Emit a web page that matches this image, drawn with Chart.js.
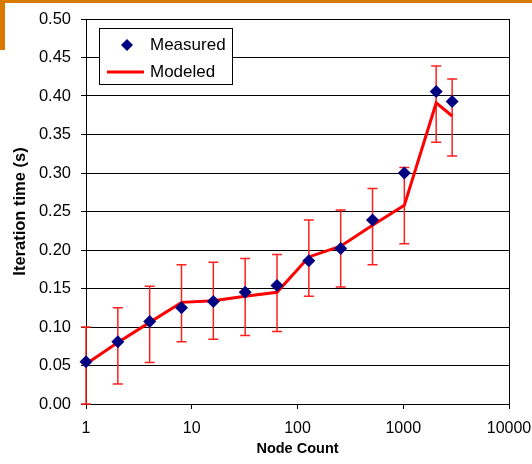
<!DOCTYPE html>
<html>
<head>
<meta charset="utf-8">
<script src="https://cdn.jsdelivr.net/npm/chart.js@4/dist/chart.umd.min.js"></script>
<style>
  body { margin: 0; background: #fff; }
  canvas { display: block; }
</style>
</head>
<body>
<canvas id="chart" width="532" height="464"></canvas>
<script>
// values
const nodes = [1, 2, 4, 8, 16, 32, 64, 128, 256, 512, 1024, 2048, 2900];
const measured = [0.055, 0.081, 0.107, 0.125, 0.133, 0.145, 0.154, 0.186, 0.202, 0.239, 0.300, 0.406, 0.393];
const errHigh = [0.100, 0.125, 0.153, 0.181, 0.184, 0.189, 0.194, 0.239, 0.252, 0.280, 0.307, 0.439, 0.422];
const errLow = [0.000, 0.026, 0.054, 0.081, 0.084, 0.089, 0.094, 0.140, 0.152, 0.181, 0.208, 0.340, 0.322];
const modeled = [0.052, 0.080, 0.106, 0.132, 0.134, 0.140, 0.145, 0.191, 0.205, 0.232, 0.258, 0.391, 0.374];
const xTicks = [1, 10, 100, 1000, 10000];
const yTicks = [0, 0.05, 0.1, 0.15, 0.2, 0.25, 0.3, 0.35, 0.4, 0.45, 0.5];

const FONT = "'Liberation Sans', Arial, sans-serif";
Chart.defaults.font.family = FONT;
Chart.defaults.color = "#000";

// orange slide decoration + plot frame
const frame = {
  id: "frame",
  beforeDraw(chart) {
    const ctx = chart.ctx;
    ctx.save();
    ctx.fillStyle = "#fff";
    ctx.fillRect(0, 0, chart.width, chart.height);
    ctx.fillStyle = "#d97a00";
    ctx.fillRect(0, 0, chart.width, 3);
    ctx.fillRect(0, 0, 5, 50);
    ctx.restore();
  },
  beforeDatasetsDraw(chart) {
    const a = chart.chartArea;
    const ctx = chart.ctx;
    ctx.save();
    ctx.strokeStyle = "#000";
    ctx.lineWidth = 1;
    ctx.strokeRect(Math.round(a.left) + 0.5, Math.round(a.top) + 0.5, Math.round(a.right - a.left), Math.round(a.bottom - a.top));
    ctx.restore();
  },
};

const errorBars = {
  id: "errorBars",
  beforeDatasetsDraw(chart) {
    const ctx = chart.ctx;
    const x = chart.scales.x;
    const y = chart.scales.y;
    ctx.save();
    ctx.strokeStyle = "#ff1f1f";
    ctx.lineWidth = 1.5;
    nodes.forEach((n, i) => {
      const px = x.getPixelForValue(n);
      const top = y.getPixelForValue(errHigh[i]);
      const bot = y.getPixelForValue(errLow[i]);
      ctx.beginPath();
      ctx.moveTo(px, top);
      ctx.lineTo(px, bot);
      ctx.moveTo(px - 5, top);
      ctx.lineTo(px + 5, top);
      ctx.moveTo(px - 5, bot);
      ctx.lineTo(px + 5, bot);
      ctx.stroke();
    });
    ctx.restore();
  },
};

const boxLegend = {
  id: "boxLegend",
  afterDraw(chart) {
    const a = chart.chartArea;
    const ctx = chart.ctx;
    const bx = a.left + 13, by = a.top + 9, bw = 133, bh = 56;
    ctx.save();
    ctx.fillStyle = "#fff";
    ctx.fillRect(bx, by, bw, bh);
    ctx.strokeStyle = "#000";
    ctx.lineWidth = 1;
    ctx.strokeRect(Math.round(bx) + 0.5, Math.round(by) + 0.5, bw, bh);
    // measured marker
    const mx = bx + 28, my = by + 17;
    ctx.fillStyle = "#000080";
    ctx.beginPath();
    ctx.moveTo(mx, my - 6);
    ctx.lineTo(mx + 6, my);
    ctx.lineTo(mx, my + 6);
    ctx.lineTo(mx - 6, my);
    ctx.closePath();
    ctx.fill();
    // modeled line
    ctx.strokeStyle = "#ff0000";
    ctx.lineWidth = 3;
    ctx.beginPath();
    ctx.moveTo(bx + 8, by + 44);
    ctx.lineTo(bx + 45, by + 44);
    ctx.stroke();
    ctx.fillStyle = "#000";
    ctx.font = "17px " + FONT;
    ctx.textBaseline = "middle";
    ctx.fillText(chart.data.datasets[0].label, bx + 51, my);
    ctx.fillText(chart.data.datasets[1].label, bx + 51, by + 44);
    ctx.restore();
  },
};

new Chart(document.getElementById("chart"), {
  type: "line",
  data: {
    datasets: [
      {
        label: "Measured",
        data: nodes.map((n, i) => ({ x: n, y: measured[i] })),
        showLine: false,
        pointStyle: "rectRot",
        pointRadius: 6.5,
        pointBackgroundColor: "#000080",
        pointBorderColor: "#000080",
        pointBorderWidth: 0,
        clip: false,
      },
      {
        label: "Modeled",
        data: nodes.map((n, i) => ({ x: n, y: modeled[i] })),
        borderColor: "#ff0000",
        borderWidth: 3,
        pointRadius: 0,
        tension: 0,
        clip: false,
      },
    ],
  },
  options: {
    responsive: false,
    animation: false,
    layout: { padding: { top: 19, right: 23, bottom: 0, left: 0 } },
    plugins: { legend: { display: false }, tooltip: { enabled: false } },
    scales: {
      x: {
        type: "logarithmic",
        min: 1,
        max: 10000,
        afterBuildTicks: (s) => { s.ticks = xTicks.map((v) => ({ value: v })); },
        afterFit: (s) => { s.height = 60; s.paddingLeft = 0; s.paddingRight = 0; },
        ticks: { autoSkip: false, maxRotation: 0, padding: 10, font: { size: 16 }, callback: (v) => String(v) },
        grid: { display: true, drawOnChartArea: false, drawTicks: true, tickLength: 5, color: "#000" },
        border: { display: true, color: "#000" },
        title: { display: true, text: "Node Count", font: { size: 14.5, weight: "bold" }, padding: { top: 0, bottom: 6 } },
      },
      y: {
        min: 0,
        max: 0.5,
        afterBuildTicks: (s) => { s.ticks = yTicks.map((v) => ({ value: v })); },
        afterFit: (s) => { s.width = 86; s.paddingTop = 0; s.paddingBottom = 0; },
        ticks: { padding: 10, font: { size: 16.5 }, callback: (v) => v.toFixed(2) },
        grid: { color: "#000", lineWidth: 1, tickLength: 5 },
        border: { display: true, color: "#000" },
        title: { display: true, text: "Iteration time (s)", font: { size: 16.5, weight: "bold" }, padding: { top: 11, bottom: 0 } },
      },
    },
  },
  plugins: [frame, errorBars, boxLegend],
});
</script>
</body>
</html>
